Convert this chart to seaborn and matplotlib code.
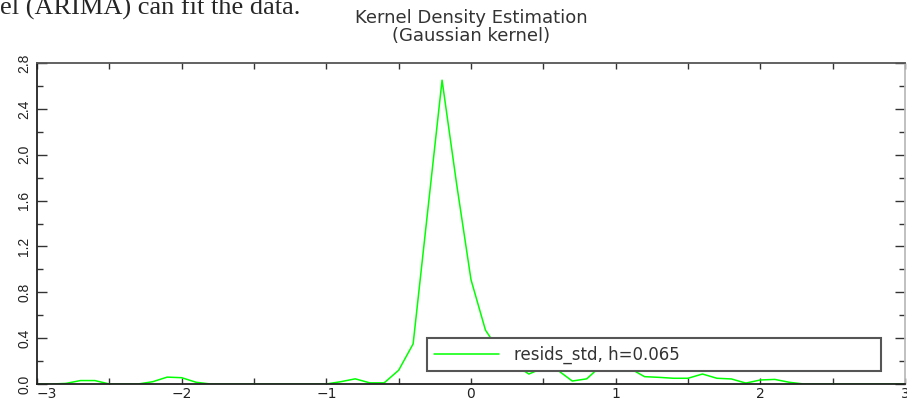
import numpy as np
import pandas as pd
import matplotlib
matplotlib.use("Agg")
import matplotlib.pyplot as plt
import seaborn as sns
from matplotlib.ticker import MultipleLocator

# evaluation grid of the density estimate
grid_x = [-3.0, -2.9, -2.8, -2.7, -2.6, -2.5, -2.4, -2.3, -2.2, -2.1,
          -2.0, -1.9, -1.8, -1.7, -1.6, -1.5, -1.4, -1.3, -1.2, -1.1,
          -1.0, -0.9, -0.8, -0.7, -0.6, -0.5, -0.4, -0.3, -0.2, -0.1,
          0.0, 0.1, 0.2, 0.3, 0.4, 0.5, 0.6, 0.7, 0.8, 0.9,
          1.0, 1.1, 1.2, 1.3, 1.4, 1.5, 1.6, 1.7, 1.8, 1.9,
          2.0, 2.1, 2.2, 2.3, 2.4, 2.5, 2.6, 2.7, 2.8, 2.9, 3.0]

density = [0.0, 0.0, 0.005, 0.03, 0.03, 0.0, 0.0, 0.0, 0.02, 0.06,
           0.055, 0.015, 0.0, 0.0, 0.0, 0.0, 0.0, 0.0, 0.0, 0.0,
           0.0, 0.02, 0.045, 0.01, 0.01, 0.12, 0.35, 1.5, 2.65, 1.75,
           0.91, 0.47, 0.28, 0.17, 0.087, 0.14, 0.12, 0.026, 0.045, 0.16,
           0.2, 0.135, 0.064, 0.058, 0.05, 0.05, 0.087, 0.05, 0.044, 0.008,
           0.035, 0.04, 0.015, 0.0, 0.0, 0.0, 0.0, 0.0, 0.0, 0.0, 0.0]

series_label = "resids_std, h=0.065"
x_ticks = [-3, -2, -1, 0, 1, 2, 3]
x_ticklabels = ["\u22123", "\u22122", "\u22121", "0", "1", "2", "3"]
y_ticks = [0.0, 0.4, 0.8, 1.2, 1.6, 2.0, 2.4, 2.8]

sns.set_style("ticks")
plt.rcParams["font.family"] = ["DejaVu Sans"]

df = pd.DataFrame({"x": grid_x, "density": density})

fig = plt.figure(figsize=(9.07, 4.01), dpi=100)
ax = fig.add_axes([37 / 907, 17 / 401, 868 / 907, 321 / 401])

sns.lineplot(data=df, x="x", y="density", ax=ax, color="#00ff00",
             linewidth=1.1, label=series_label)

ax.set_xlim(-3, 3)
ax.set_ylim(0, 2.8)
ax.set_xlabel("")
ax.set_ylabel("")

ax.set_xticks(x_ticks)
ax.set_xticklabels(x_ticklabels, fontsize=10, color="#222222")
# leftmost label sits just right of the corner, as in the original
ax.get_xticklabels()[0].set_horizontalalignment("left")
ax.xaxis.set_minor_locator(MultipleLocator(0.5))
ax.set_yticks(y_ticks)
ax.set_yticklabels([f"{v:.1f}" for v in y_ticks], rotation=90, va="center",
                   fontsize=10, family="Liberation Sans", color="#222222")
ax.yaxis.set_minor_locator(MultipleLocator(0.2))

ax.tick_params(which="both", direction="in", top=True, right=True,
               color="#333333", width=1)
ax.tick_params(axis="x", which="both", length=4, pad=2)
ax.tick_params(axis="y", which="major", length=7, pad=4)
ax.tick_params(axis="y", which="minor", length=4)

for side in ["left", "bottom", "top", "right"]:
    ax.spines[side].set_visible(True)
    ax.spines[side].set_linewidth(1.3)
    ax.spines[side].set_color("#222222")
ax.spines["top"].set_color("#555555")
ax.spines["right"].set_color("#bbbbbb")

ax.set_title("Kernel Density Estimation\n(Gaussian kernel)", fontsize=13,
             color="#333333", pad=16, linespacing=0.95)

leg = ax.legend(loc="lower left", bbox_to_anchor=(0.449, 0.04, 0.523, 0.1),
                mode="expand", borderaxespad=0, fancybox=False,
                handlelength=3.9, fontsize=12, borderpad=0.45,
                handletextpad=0.9, framealpha=1)
leg.get_frame().set_edgecolor("#555555")
leg.get_frame().set_linewidth(1.5)
for t in leg.get_texts():
    t.set_color("#333333")

fig.text(0, 1 - 15 / 401, "el (ARIMA) can fit the data.",
         family="Liberation Serif", fontsize=19, va="baseline", ha="left")

fig.savefig("out.png", dpi=100)
